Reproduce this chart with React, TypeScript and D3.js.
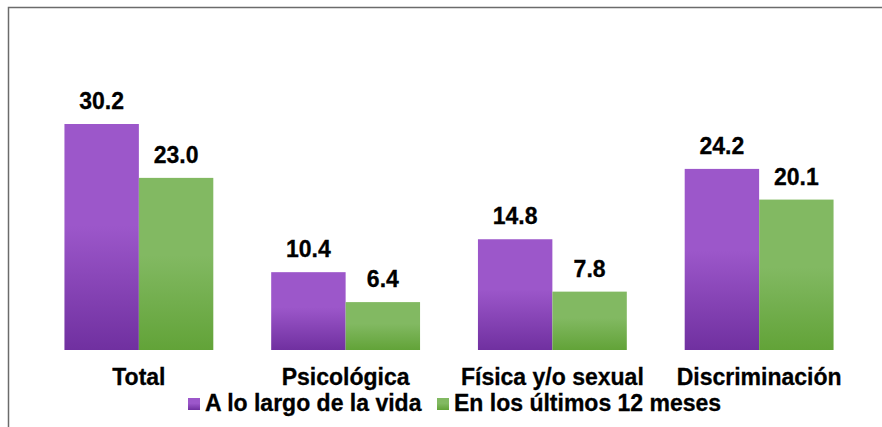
import React, { useRef, useEffect } from 'react'
import * as d3 from 'd3'

const categories = ['Total', 'Psicológica', 'Física y/o sexual', 'Discriminación']
const seriesNames = ['A lo largo de la vida', 'En los últimos 12 meses']
const lifetime = [30.2, 10.4, 14.8, 24.2]
const last12 = [23.0, 6.4, 7.8, 20.1]

const width = 882
const height = 427

export default function App() {
    const svgRef = useRef<SVGSVGElement>(null)

    useEffect(() => {
        if (!svgRef.current) return
        const svg = d3.select(svgRef.current)
        svg.selectAll('*').remove()

        const font = 'Liberation Sans, Arial, sans-serif'

        // gradientes de las barras
        const defs = svg.append('defs')
        const grads = [
            { id: 'gPurple', top: '#9c57ca', bottom: '#7030a0' },
            { id: 'gGreen', top: '#82b962', bottom: '#62a338' },
        ]
        grads.forEach((g) => {
            const lg = defs
                .append('linearGradient')
                .attr('id', g.id)
                .attr('x1', 0)
                .attr('y1', 0)
                .attr('x2', 0)
                .attr('y2', 1)
            lg.append('stop').attr('offset', '0%').attr('stop-color', g.top)
            lg.append('stop').attr('offset', '45%').attr('stop-color', g.top)
            lg.append('stop').attr('offset', '100%').attr('stop-color', g.bottom)
        })

        // marco
        svg.append('rect')
            .attr('x', 8.5)
            .attr('y', 7.5)
            .attr('width', 900)
            .attr('height', 500)
            .attr('fill', 'none')
            .attr('stroke', '#6b6b6b')
            .attr('stroke-width', 1.5)

        const x0 = d3
            .scaleBand<string>()
            .domain(categories)
            .range([35.5, 862.5])
            .paddingInner(0.28)
            .paddingOuter(0.14)

        const x1 = d3
            .scaleBand<string>()
            .domain(seriesNames)
            .range([0, x0.bandwidth()])

        const y = d3.scaleLinear().domain([0, 30.2]).range([350, 124])

        const series = [
            { name: seriesNames[0], values: lifetime, fill: 'url(#gPurple)' },
            { name: seriesNames[1], values: last12, fill: 'url(#gGreen)' },
        ]

        const label = (sel: d3.Selection<SVGTextElement, any, any, any>) =>
            sel
                .style('font-family', font)
                .style('font-weight', 'bold')
                .style('font-size', '23px')
                .attr('fill', '#000')
                .attr('stroke', '#000')
                .attr('stroke-width', 0.3)

        series.forEach((s) => {
            const g = svg.append('g')
            g.selectAll('rect')
                .data(s.values)
                .enter()
                .append('rect')
                .attr('x', (_, i) => x0(categories[i])! + x1(s.name)!)
                .attr('y', (d) => y(d))
                .attr('width', x1.bandwidth())
                .attr('height', (d) => y(0) - y(d))
                .attr('fill', s.fill)

            g.selectAll('text')
                .data(s.values)
                .enter()
                .append('text')
                .attr('x', (_, i) => x0(categories[i])! + x1(s.name)! + x1.bandwidth() / 2)
                .attr('y', (d) => y(d) - 15)
                .attr('text-anchor', 'middle')
                .call(label)
                .text((d) => d.toFixed(1))
        })

        // etiquetas de categorías
        svg.append('g')
            .selectAll('text')
            .data(categories)
            .enter()
            .append('text')
            .attr('x', (d) => x0(d)! + x0.bandwidth() / 2)
            .attr('y', 385)
            .attr('text-anchor', 'middle')
            .call(label)
            .text((d) => d)

        // leyenda
        const legendX = [188, 437]
        const legend = svg.append('g')
        series.forEach((s, i) => {
            legend
                .append('rect')
                .attr('x', legendX[i])
                .attr('y', 398)
                .attr('width', 12)
                .attr('height', 12)
                .attr('fill', s.fill)
            legend
                .append('text')
                .attr('x', legendX[i] + 17)
                .attr('y', 411)
                .call(label)
                .text(s.name)
        })
    }, [])

    return (
        <svg
            ref={svgRef}
            width={width}
            height={height}
            style={{ position: 'absolute', top: 0, left: 0, background: '#fff' }}
        />
    )
}
